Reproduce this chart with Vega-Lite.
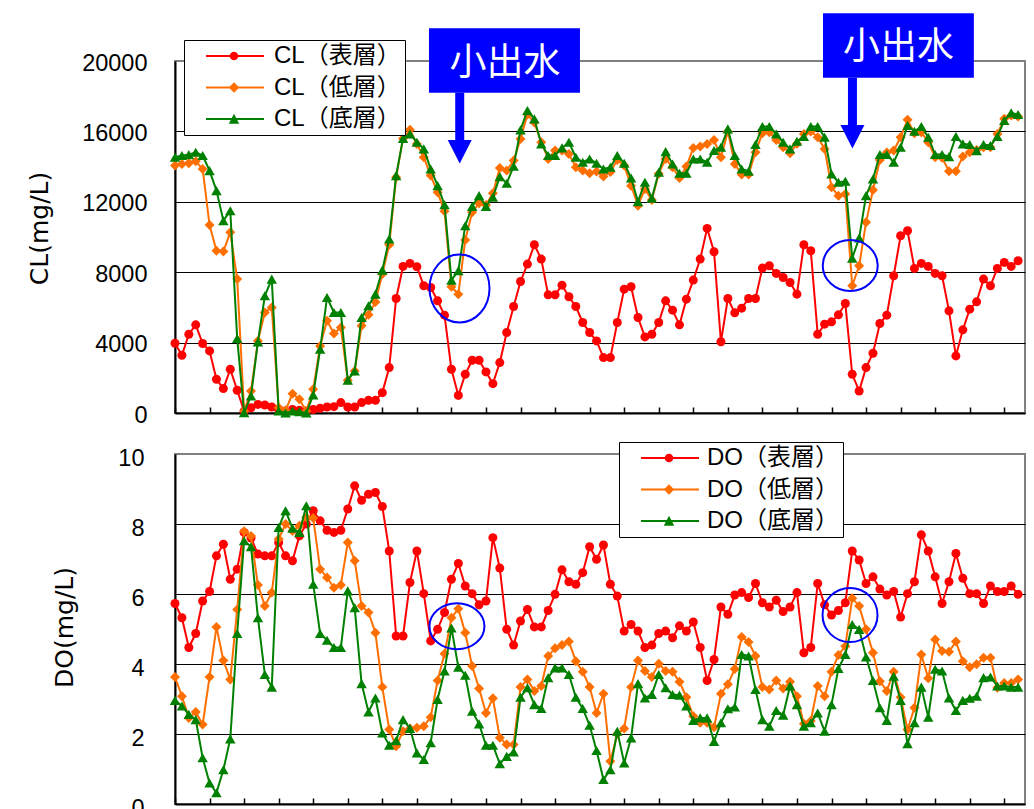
{
  "$schema": "https://vega.github.io/schema/vega-lite/v6.json",
  "background": "white",
  "padding": {"left": 26, "top": 12, "right": 9, "bottom": 0},
  "spacing": 41,
  "bounds": "flush",
  "resolve": {
    "scale": {"x": "independent", "y": "independent", "color": "independent", "shape": "independent"},
    "legend": {"color": "independent", "shape": "independent"}
  },
  "config": {
    "view": {"stroke": "#808080", "strokeWidth": 2},
    "axis": {
      "labelFont": "Liberation Sans", "labelFontSize": 23.5, "labelColor": "black",
      "labelFlush": false, "labelOverlap": false, "labelBound": false,
      "domainColor": "black", "domainWidth": 2,
      "gridColor": "black", "gridWidth": 1, "gridOpacity": 1,
      "titleFont": "DejaVu Sans", "titleFontSize": 25, "titleFontWeight": "normal", "titleColor": "black"
    },
    "legend": {
      "title": null, "orient": "none", "direction": "vertical",
      "fillColor": "white", "strokeColor": "black", "padding": 4, "rowPadding": 7.5,
      "symbolSize": 100, "symbolStrokeWidth": 0,
      "labelFont": "Liberation Sans, Noto Sans CJK JP", "labelFontSize": 24, "labelColor": "black"
    }
  },
  "datasets": {
    "cl": [
      {"sample":0,"layer":"表層","CL":3965},{"sample":1,"layer":"表層","CL":3282},{"sample":2,"layer":"表層","CL":4477},{"sample":3,"layer":"表層","CL":5008},{"sample":4,"layer":"表層","CL":3946},{"sample":5,"layer":"表層","CL":3528},{"sample":6,"layer":"表層","CL":1916},{"sample":7,"layer":"表層","CL":1385},{"sample":8,"layer":"表層","CL":2485},{"sample":9,"layer":"表層","CL":1290},
      {"sample":10,"layer":"表層","CL":110},{"sample":11,"layer":"表層","CL":300},{"sample":12,"layer":"表層","CL":490},{"sample":13,"layer":"表層","CL":455},{"sample":14,"layer":"表層","CL":340},{"sample":15,"layer":"表層","CL":210},{"sample":16,"layer":"表層","CL":110},{"sample":17,"layer":"表層","CL":200},{"sample":18,"layer":"表層","CL":150},{"sample":19,"layer":"表層","CL":110},
      {"sample":20,"layer":"表層","CL":200},{"sample":21,"layer":"表層","CL":270},{"sample":22,"layer":"表層","CL":340},{"sample":23,"layer":"表層","CL":360},{"sample":24,"layer":"表層","CL":590},{"sample":25,"layer":"表層","CL":340},{"sample":26,"layer":"表層","CL":340},{"sample":27,"layer":"表層","CL":590},{"sample":28,"layer":"表層","CL":720},{"sample":29,"layer":"表層","CL":720},
      {"sample":30,"layer":"表層","CL":1157},{"sample":31,"layer":"表層","CL":2580},{"sample":32,"layer":"表層","CL":6507},{"sample":33,"layer":"表層","CL":8328},{"sample":34,"layer":"表層","CL":8499},{"sample":35,"layer":"表層","CL":8309},{"sample":36,"layer":"表層","CL":7228},{"sample":37,"layer":"表層","CL":7133},{"sample":38,"layer":"表層","CL":6374},{"sample":39,"layer":"表層","CL":5558},
      {"sample":40,"layer":"表層","CL":2485},{"sample":41,"layer":"表層","CL":1000},{"sample":42,"layer":"表層","CL":2200},{"sample":43,"layer":"表層","CL":2997},{"sample":44,"layer":"表層","CL":2997},{"sample":45,"layer":"表層","CL":2333},{"sample":46,"layer":"表層","CL":1669},{"sample":47,"layer":"表層","CL":2864},{"sample":48,"layer":"表層","CL":4572},{"sample":49,"layer":"表層","CL":6051},
      {"sample":50,"layer":"表層","CL":7474},{"sample":51,"layer":"表層","CL":8461},{"sample":52,"layer":"表層","CL":9561},{"sample":53,"layer":"表層","CL":8745},{"sample":54,"layer":"表層","CL":6715},{"sample":55,"layer":"表層","CL":6715},{"sample":56,"layer":"表層","CL":7265},{"sample":57,"layer":"表層","CL":6602},{"sample":58,"layer":"表層","CL":6051},{"sample":59,"layer":"表層","CL":5141},
      {"sample":60,"layer":"表層","CL":4572},{"sample":61,"layer":"表層","CL":4097},{"sample":62,"layer":"表層","CL":3149},{"sample":63,"layer":"表層","CL":3149},{"sample":64,"layer":"表層","CL":5141},{"sample":65,"layer":"表層","CL":7038},{"sample":66,"layer":"表層","CL":7171},{"sample":67,"layer":"表層","CL":5425},{"sample":68,"layer":"表層","CL":4325},{"sample":69,"layer":"表層","CL":4477},
      {"sample":70,"layer":"表層","CL":5141},{"sample":71,"layer":"表層","CL":6374},{"sample":72,"layer":"表層","CL":5843},{"sample":73,"layer":"表層","CL":5008},{"sample":74,"layer":"表層","CL":6469},{"sample":75,"layer":"表層","CL":7550},{"sample":76,"layer":"表層","CL":8745},{"sample":77,"layer":"表層","CL":10490},{"sample":78,"layer":"表層","CL":9162},{"sample":79,"layer":"表層","CL":4050},
      {"sample":80,"layer":"表層","CL":6507},{"sample":81,"layer":"表層","CL":5690},{"sample":82,"layer":"表層","CL":5957},{"sample":83,"layer":"表層","CL":6507},{"sample":84,"layer":"表層","CL":6507},{"sample":85,"layer":"表層","CL":8233},{"sample":86,"layer":"表層","CL":8366},{"sample":87,"layer":"表層","CL":7930},{"sample":88,"layer":"表層","CL":7702},{"sample":89,"layer":"表層","CL":7417},
      {"sample":90,"layer":"表層","CL":6753},{"sample":91,"layer":"表層","CL":9561},{"sample":92,"layer":"表層","CL":9219},{"sample":93,"layer":"表層","CL":4477},{"sample":94,"layer":"表層","CL":5046},{"sample":95,"layer":"表層","CL":5179},{"sample":96,"layer":"表層","CL":5577},{"sample":97,"layer":"表層","CL":6222},{"sample":98,"layer":"表層","CL":2200},{"sample":99,"layer":"表層","CL":1252},
      {"sample":100,"layer":"表層","CL":2580},{"sample":101,"layer":"表層","CL":3396},{"sample":102,"layer":"表層","CL":5084},{"sample":103,"layer":"表層","CL":5558},{"sample":104,"layer":"表層","CL":7797},{"sample":105,"layer":"表層","CL":10073},{"sample":106,"layer":"表層","CL":10358},{"sample":107,"layer":"表層","CL":8214},{"sample":108,"layer":"表層","CL":8499},{"sample":109,"layer":"表層","CL":8328},
      {"sample":110,"layer":"表層","CL":7930},{"sample":111,"layer":"表層","CL":7797},{"sample":112,"layer":"表層","CL":5805},{"sample":113,"layer":"表層","CL":3244},{"sample":114,"layer":"表層","CL":4724},{"sample":115,"layer":"表層","CL":5900},{"sample":116,"layer":"表層","CL":6317},{"sample":117,"layer":"表層","CL":7607},{"sample":118,"layer":"表層","CL":7228},{"sample":119,"layer":"表層","CL":8214},
      {"sample":120,"layer":"表層","CL":8556},{"sample":121,"layer":"表層","CL":8328},{"sample":122,"layer":"表層","CL":8650},

      {"sample":0,"layer":"低層","CL":14057},{"sample":1,"layer":"低層","CL":14152},{"sample":2,"layer":"低層","CL":14190},{"sample":3,"layer":"低層","CL":14300},{"sample":4,"layer":"低層","CL":13867},{"sample":5,"layer":"低層","CL":10680},{"sample":6,"layer":"低層","CL":9219},{"sample":7,"layer":"低層","CL":9181},{"sample":8,"layer":"低層","CL":10263},{"sample":9,"layer":"低層","CL":7607},
      {"sample":10,"layer":"低層","CL":114},{"sample":11,"layer":"低層","CL":1252},{"sample":12,"layer":"低層","CL":4098},{"sample":13,"layer":"低層","CL":5710},{"sample":14,"layer":"低層","CL":5995},{"sample":15,"layer":"低層","CL":304},{"sample":16,"layer":"低層","CL":150},{"sample":17,"layer":"低層","CL":1100},{"sample":18,"layer":"低層","CL":778},{"sample":19,"layer":"低層","CL":114},
      {"sample":20,"layer":"低層","CL":1347},{"sample":21,"layer":"低層","CL":3813},{"sample":22,"layer":"低層","CL":5236},{"sample":23,"layer":"低層","CL":4515},{"sample":24,"layer":"低層","CL":4856},{"sample":25,"layer":"低層","CL":1859},{"sample":26,"layer":"低層","CL":2390},{"sample":27,"layer":"低層","CL":4951},{"sample":28,"layer":"低層","CL":5577},{"sample":29,"layer":"低層","CL":6300},
      {"sample":30,"layer":"低層","CL":7892},{"sample":31,"layer":"低層","CL":9561},{"sample":32,"layer":"低層","CL":13393},{"sample":33,"layer":"低層","CL":15600},{"sample":34,"layer":"低層","CL":16087},{"sample":35,"layer":"低層","CL":15290},{"sample":36,"layer":"低層","CL":14531},{"sample":37,"layer":"低層","CL":13488},{"sample":38,"layer":"低層","CL":12539},{"sample":39,"layer":"低層","CL":11458},
      {"sample":40,"layer":"低層","CL":7171},{"sample":41,"layer":"低層","CL":6753},{"sample":42,"layer":"低層","CL":9826},{"sample":43,"layer":"低層","CL":11401},{"sample":44,"layer":"低層","CL":11913},{"sample":45,"layer":"低層","CL":11818},{"sample":46,"layer":"低層","CL":12482},{"sample":47,"layer":"低層","CL":13924},{"sample":48,"layer":"低層","CL":13772},{"sample":49,"layer":"低層","CL":14341},
      {"sample":50,"layer":"低層","CL":15575},{"sample":51,"layer":"低層","CL":16959},{"sample":52,"layer":"低層","CL":16500},{"sample":53,"layer":"低層","CL":15385},{"sample":54,"layer":"低層","CL":14436},{"sample":55,"layer":"低層","CL":14911},{"sample":56,"layer":"低層","CL":14911},{"sample":57,"layer":"低層","CL":14721},{"sample":58,"layer":"低層","CL":13962},{"sample":59,"layer":"低層","CL":13772},
      {"sample":60,"layer":"低層","CL":13620},{"sample":61,"layer":"低層","CL":13715},{"sample":62,"layer":"低層","CL":13431},{"sample":63,"layer":"低層","CL":13700},{"sample":64,"layer":"低層","CL":14379},{"sample":65,"layer":"低層","CL":14057},{"sample":66,"layer":"低層","CL":12918},{"sample":67,"layer":"低層","CL":11780},{"sample":68,"layer":"低層","CL":12729},{"sample":69,"layer":"低層","CL":12100},
      {"sample":70,"layer":"低層","CL":13600},{"sample":71,"layer":"低層","CL":14436},{"sample":72,"layer":"低層","CL":13962},{"sample":73,"layer":"低層","CL":13355},{"sample":74,"layer":"低層","CL":14000},{"sample":75,"layer":"低層","CL":15062},{"sample":76,"layer":"低層","CL":15138},{"sample":77,"layer":"低層","CL":15290},{"sample":78,"layer":"低層","CL":15518},{"sample":79,"layer":"低層","CL":14531},
      {"sample":80,"layer":"低層","CL":16000},{"sample":81,"layer":"低層","CL":14152},{"sample":82,"layer":"低層","CL":13545},{"sample":83,"layer":"低層","CL":13545},{"sample":84,"layer":"低層","CL":14815},{"sample":85,"layer":"低層","CL":15897},{"sample":86,"layer":"低層","CL":15954},{"sample":87,"layer":"低層","CL":15518},{"sample":88,"layer":"低層","CL":15100},{"sample":89,"layer":"低層","CL":14759},
      {"sample":90,"layer":"低層","CL":15300},{"sample":91,"layer":"低層","CL":15859},{"sample":92,"layer":"低層","CL":16000},{"sample":93,"layer":"低層","CL":15669},{"sample":94,"layer":"低層","CL":15006},{"sample":95,"layer":"低層","CL":12824},{"sample":96,"layer":"低層","CL":12349},{"sample":97,"layer":"低層","CL":12444},{"sample":98,"layer":"低層","CL":7228},{"sample":99,"layer":"低層","CL":8366},
      {"sample":100,"layer":"低層","CL":10832},{"sample":101,"layer":"低層","CL":12672},{"sample":102,"layer":"低層","CL":14379},{"sample":103,"layer":"低層","CL":14800},{"sample":104,"layer":"低層","CL":14910},{"sample":105,"layer":"低層","CL":15669},{"sample":106,"layer":"低層","CL":16655},{"sample":107,"layer":"低層","CL":15900},{"sample":108,"layer":"低層","CL":15950},{"sample":109,"layer":"低層","CL":15385},
      {"sample":110,"layer":"低層","CL":14531},{"sample":111,"layer":"低層","CL":14500},{"sample":112,"layer":"低層","CL":13734},{"sample":113,"layer":"低層","CL":13734},{"sample":114,"layer":"低層","CL":14569},{"sample":115,"layer":"低層","CL":14816},{"sample":116,"layer":"低層","CL":14948},{"sample":117,"layer":"低層","CL":15100},{"sample":118,"layer":"低層","CL":15100},{"sample":119,"layer":"低層","CL":15859},
      {"sample":120,"layer":"低層","CL":16713},{"sample":121,"layer":"低層","CL":16902},{"sample":122,"layer":"低層","CL":16845},

      {"sample":0,"layer":"底層","CL":14531},{"sample":1,"layer":"底層","CL":14626},{"sample":2,"layer":"底層","CL":14680},{"sample":3,"layer":"底層","CL":14816},{"sample":4,"layer":"底層","CL":14626},{"sample":5,"layer":"底層","CL":13772},{"sample":6,"layer":"底層","CL":12634},{"sample":7,"layer":"底層","CL":10927},{"sample":8,"layer":"底層","CL":11496},{"sample":9,"layer":"底層","CL":4230},
      {"sample":10,"layer":"底層","CL":20},{"sample":11,"layer":"底層","CL":967},{"sample":12,"layer":"底層","CL":4041},{"sample":13,"layer":"底層","CL":6659},{"sample":14,"layer":"底層","CL":7607},{"sample":15,"layer":"底層","CL":114},{"sample":16,"layer":"底層","CL":0},{"sample":17,"layer":"底層","CL":114},{"sample":18,"layer":"底層","CL":76},{"sample":19,"layer":"底層","CL":0},
      {"sample":20,"layer":"底層","CL":1024},{"sample":21,"layer":"底層","CL":3623},{"sample":22,"layer":"底層","CL":6564},{"sample":23,"layer":"底層","CL":5710},{"sample":24,"layer":"底層","CL":5710},{"sample":25,"layer":"底層","CL":1859},{"sample":26,"layer":"底層","CL":2390},{"sample":27,"layer":"底層","CL":5425},{"sample":28,"layer":"底層","CL":6090},{"sample":29,"layer":"底層","CL":6753},
      {"sample":30,"layer":"底層","CL":8119},{"sample":31,"layer":"底層","CL":9883},{"sample":32,"layer":"底層","CL":13488},{"sample":33,"layer":"底層","CL":15600},{"sample":34,"layer":"底層","CL":15860},{"sample":35,"layer":"底層","CL":15385},{"sample":36,"layer":"底層","CL":15006},{"sample":37,"layer":"底層","CL":13867},{"sample":38,"layer":"底層","CL":12918},{"sample":39,"layer":"底層","CL":11837},
      {"sample":40,"layer":"底層","CL":7550},{"sample":41,"layer":"底層","CL":8081},{"sample":42,"layer":"底層","CL":10642},{"sample":43,"layer":"底層","CL":11742},{"sample":44,"layer":"底層","CL":12349},{"sample":45,"layer":"底層","CL":11742},{"sample":46,"layer":"底層","CL":12254},{"sample":47,"layer":"底層","CL":13431},{"sample":48,"layer":"底層","CL":13051},{"sample":49,"layer":"底層","CL":14019},
      {"sample":50,"layer":"底層","CL":16087},{"sample":51,"layer":"底層","CL":17187},{"sample":52,"layer":"底層","CL":16713},{"sample":53,"layer":"底層","CL":15290},{"sample":54,"layer":"底層","CL":14626},{"sample":55,"layer":"底層","CL":14626},{"sample":56,"layer":"底層","CL":15062},{"sample":57,"layer":"底層","CL":15385},{"sample":58,"layer":"底層","CL":14531},{"sample":59,"layer":"底層","CL":14247},
      {"sample":60,"layer":"底層","CL":14436},{"sample":61,"layer":"底層","CL":14190},{"sample":62,"layer":"底層","CL":13867},{"sample":63,"layer":"底層","CL":13962},{"sample":64,"layer":"底層","CL":14626},{"sample":65,"layer":"底層","CL":14190},{"sample":66,"layer":"底層","CL":13355},{"sample":67,"layer":"底層","CL":12008},{"sample":68,"layer":"底層","CL":13108},{"sample":69,"layer":"底層","CL":12197},
      {"sample":70,"layer":"底層","CL":13677},{"sample":71,"layer":"底層","CL":14853},{"sample":72,"layer":"底層","CL":14152},{"sample":73,"layer":"底層","CL":13620},{"sample":74,"layer":"底層","CL":13620},{"sample":75,"layer":"底層","CL":14436},{"sample":76,"layer":"底層","CL":14436},{"sample":77,"layer":"底層","CL":14247},{"sample":78,"layer":"底層","CL":14911},{"sample":79,"layer":"底層","CL":15100},
      {"sample":80,"layer":"底層","CL":16144},{"sample":81,"layer":"底層","CL":14626},{"sample":82,"layer":"底層","CL":13867},{"sample":83,"layer":"底層","CL":13734},{"sample":84,"layer":"底層","CL":15252},{"sample":85,"layer":"底層","CL":16276},{"sample":86,"layer":"底層","CL":16276},{"sample":87,"layer":"底層","CL":15859},{"sample":88,"layer":"底層","CL":15385},{"sample":89,"layer":"底層","CL":15006},
      {"sample":90,"layer":"底層","CL":15442},{"sample":91,"layer":"底層","CL":15707},{"sample":92,"layer":"底層","CL":16276},{"sample":93,"layer":"底層","CL":16276},{"sample":94,"layer":"底層","CL":15669},{"sample":95,"layer":"底層","CL":13583},{"sample":96,"layer":"底層","CL":13108},{"sample":97,"layer":"底層","CL":13165},{"sample":98,"layer":"底層","CL":8802},{"sample":99,"layer":"底層","CL":9940},
      {"sample":100,"layer":"底層","CL":12349},{"sample":101,"layer":"底層","CL":13298},{"sample":102,"layer":"底層","CL":14683},{"sample":103,"layer":"底層","CL":14683},{"sample":104,"layer":"底層","CL":14247},{"sample":105,"layer":"底層","CL":15100},{"sample":106,"layer":"底層","CL":16333},{"sample":107,"layer":"底層","CL":16011},{"sample":108,"layer":"底層","CL":16276},{"sample":109,"layer":"底層","CL":15669},
      {"sample":110,"layer":"底層","CL":14683},{"sample":111,"layer":"底層","CL":14683},{"sample":112,"layer":"底層","CL":14569},{"sample":113,"layer":"底層","CL":15707},{"sample":114,"layer":"底層","CL":15290},{"sample":115,"layer":"底層","CL":15252},{"sample":116,"layer":"底層","CL":14910},{"sample":117,"layer":"底層","CL":15252},{"sample":118,"layer":"底層","CL":15195},{"sample":119,"layer":"底層","CL":15707},
      {"sample":120,"layer":"底層","CL":16618},{"sample":121,"layer":"底層","CL":17054},{"sample":122,"layer":"底層","CL":16959}
    ],
    "do": [
      {"sample":0,"layer":"表層","DO":5.73},{"sample":1,"layer":"表層","DO":5.32},{"sample":2,"layer":"表層","DO":4.47},{"sample":3,"layer":"表層","DO":4.87},{"sample":4,"layer":"表層","DO":5.80},{"sample":5,"layer":"表層","DO":6.07},{"sample":6,"layer":"表層","DO":7.09},{"sample":7,"layer":"表層","DO":7.42},{"sample":8,"layer":"表層","DO":6.42},{"sample":9,"layer":"表層","DO":6.71},
      {"sample":10,"layer":"表層","DO":7.76},{"sample":11,"layer":"表層","DO":7.60},{"sample":12,"layer":"表層","DO":7.14},{"sample":13,"layer":"表層","DO":7.09},{"sample":14,"layer":"表層","DO":7.09},{"sample":15,"layer":"表層","DO":7.47},{"sample":16,"layer":"表層","DO":7.09},{"sample":17,"layer":"表層","DO":6.95},{"sample":18,"layer":"表層","DO":7.66},{"sample":19,"layer":"表層","DO":8.00},
      {"sample":20,"layer":"表層","DO":8.38},{"sample":21,"layer":"表層","DO":8.09},{"sample":22,"layer":"表層","DO":7.82},{"sample":23,"layer":"表層","DO":7.76},{"sample":24,"layer":"表層","DO":7.82},{"sample":25,"layer":"表層","DO":8.43},{"sample":26,"layer":"表層","DO":9.09},{"sample":27,"layer":"表層","DO":8.68},{"sample":28,"layer":"表層","DO":8.85},{"sample":29,"layer":"表層","DO":8.90},
      {"sample":30,"layer":"表層","DO":8.50},{"sample":31,"layer":"表層","DO":7.23},{"sample":32,"layer":"表層","DO":4.80},{"sample":33,"layer":"表層","DO":4.80},{"sample":34,"layer":"表層","DO":6.33},{"sample":35,"layer":"表層","DO":7.23},{"sample":36,"layer":"表層","DO":6.01},{"sample":37,"layer":"表層","DO":4.66},{"sample":38,"layer":"表層","DO":4.99},{"sample":39,"layer":"表層","DO":5.47},
      {"sample":40,"layer":"表層","DO":6.42},{"sample":41,"layer":"表層","DO":6.87},{"sample":42,"layer":"表層","DO":6.23},{"sample":43,"layer":"表層","DO":6.01},{"sample":44,"layer":"表層","DO":5.69},{"sample":45,"layer":"表層","DO":5.80},{"sample":46,"layer":"表層","DO":7.61},{"sample":47,"layer":"表層","DO":6.74},{"sample":48,"layer":"表層","DO":4.99},{"sample":49,"layer":"表層","DO":4.54},
      {"sample":50,"layer":"表層","DO":5.23},{"sample":51,"layer":"表層","DO":5.56},{"sample":52,"layer":"表層","DO":5.06},{"sample":53,"layer":"表層","DO":5.06},{"sample":54,"layer":"表層","DO":5.53},{"sample":55,"layer":"表層","DO":5.99},{"sample":56,"layer":"表層","DO":6.69},{"sample":57,"layer":"表層","DO":6.35},{"sample":58,"layer":"表層","DO":6.28},{"sample":59,"layer":"表層","DO":6.61},
      {"sample":60,"layer":"表層","DO":7.35},{"sample":61,"layer":"表層","DO":6.99},{"sample":62,"layer":"表層","DO":7.40},{"sample":63,"layer":"表層","DO":6.28},{"sample":64,"layer":"表層","DO":5.94},{"sample":65,"layer":"表層","DO":4.94},{"sample":66,"layer":"表層","DO":5.13},{"sample":67,"layer":"表層","DO":4.94},{"sample":68,"layer":"表層","DO":4.47},{"sample":69,"layer":"表層","DO":4.54},
      {"sample":70,"layer":"表層","DO":4.87},{"sample":71,"layer":"表層","DO":4.94},{"sample":72,"layer":"表層","DO":4.75},{"sample":73,"layer":"表層","DO":5.09},{"sample":74,"layer":"表層","DO":4.94},{"sample":75,"layer":"表層","DO":5.20},{"sample":76,"layer":"表層","DO":4.47},{"sample":77,"layer":"表層","DO":3.53},{"sample":78,"layer":"表層","DO":4.13},{"sample":79,"layer":"表層","DO":5.63},
      {"sample":80,"layer":"表層","DO":5.42},{"sample":81,"layer":"表層","DO":5.97},{"sample":82,"layer":"表層","DO":6.04},{"sample":83,"layer":"表層","DO":5.90},{"sample":84,"layer":"表層","DO":6.30},{"sample":85,"layer":"表層","DO":5.75},{"sample":86,"layer":"表層","DO":5.63},{"sample":87,"layer":"表層","DO":5.82},{"sample":88,"layer":"表層","DO":5.50},{"sample":89,"layer":"表層","DO":5.63},
      {"sample":90,"layer":"表層","DO":6.04},{"sample":91,"layer":"表層","DO":4.32},{"sample":92,"layer":"表層","DO":4.47},{"sample":93,"layer":"表層","DO":6.30},{"sample":94,"layer":"表層","DO":5.69},{"sample":95,"layer":"表層","DO":5.40},{"sample":96,"layer":"表層","DO":5.53},{"sample":97,"layer":"表層","DO":5.75},{"sample":98,"layer":"表層","DO":7.23},{"sample":99,"layer":"表層","DO":6.97},
      {"sample":100,"layer":"表層","DO":6.30},{"sample":101,"layer":"表層","DO":6.49},{"sample":102,"layer":"表層","DO":6.14},{"sample":103,"layer":"表層","DO":5.97},{"sample":104,"layer":"表層","DO":6.07},{"sample":105,"layer":"表層","DO":5.34},{"sample":106,"layer":"表層","DO":6.01},{"sample":107,"layer":"表層","DO":6.35},{"sample":108,"layer":"表層","DO":7.69},{"sample":109,"layer":"表層","DO":7.23},
      {"sample":110,"layer":"表層","DO":6.49},{"sample":111,"layer":"表層","DO":5.73},{"sample":112,"layer":"表層","DO":6.35},{"sample":113,"layer":"表層","DO":7.16},{"sample":114,"layer":"表層","DO":6.45},{"sample":115,"layer":"表層","DO":6.01},{"sample":116,"layer":"表層","DO":6.01},{"sample":117,"layer":"表層","DO":5.73},{"sample":118,"layer":"表層","DO":6.23},{"sample":119,"layer":"表層","DO":6.07},
      {"sample":120,"layer":"表層","DO":6.07},{"sample":121,"layer":"表層","DO":6.23},{"sample":122,"layer":"表層","DO":5.99},

      {"sample":0,"layer":"低層","DO":3.63},{"sample":1,"layer":"低層","DO":3.08},{"sample":2,"layer":"低層","DO":2.46},{"sample":3,"layer":"低層","DO":2.63},{"sample":4,"layer":"低層","DO":2.27},{"sample":5,"layer":"低層","DO":3.63},{"sample":6,"layer":"低層","DO":5.06},{"sample":7,"layer":"低層","DO":4.10},{"sample":8,"layer":"低層","DO":3.56},{"sample":9,"layer":"低層","DO":5.56},
      {"sample":10,"layer":"低層","DO":7.79},{"sample":11,"layer":"低層","DO":7.66},{"sample":12,"layer":"低層","DO":6.26},{"sample":13,"layer":"低層","DO":5.66},{"sample":14,"layer":"低層","DO":6.04},{"sample":15,"layer":"低層","DO":7.57},{"sample":16,"layer":"低層","DO":8.00},{"sample":17,"layer":"低層","DO":7.80},{"sample":18,"layer":"低層","DO":7.95},{"sample":19,"layer":"低層","DO":8.19},
      {"sample":20,"layer":"低層","DO":8.17},{"sample":21,"layer":"低層","DO":6.71},{"sample":22,"layer":"低層","DO":6.47},{"sample":23,"layer":"低層","DO":6.18},{"sample":24,"layer":"低層","DO":6.26},{"sample":25,"layer":"低層","DO":7.47},{"sample":26,"layer":"低層","DO":6.95},{"sample":27,"layer":"低層","DO":5.66},{"sample":28,"layer":"低層","DO":5.47},{"sample":29,"layer":"低層","DO":4.89},
      {"sample":30,"layer":"低層","DO":3.34},{"sample":31,"layer":"低層","DO":2.13},{"sample":32,"layer":"低層","DO":1.65},{"sample":33,"layer":"低層","DO":2.08},{"sample":34,"layer":"低層","DO":2.16},{"sample":35,"layer":"低層","DO":2.18},{"sample":36,"layer":"低層","DO":2.22},{"sample":37,"layer":"低層","DO":2.48},{"sample":38,"layer":"低層","DO":3.53},{"sample":39,"layer":"低層","DO":4.29},
      {"sample":40,"layer":"低層","DO":5.32},{"sample":41,"layer":"低層","DO":5.58},{"sample":42,"layer":"低層","DO":4.89},{"sample":43,"layer":"低層","DO":3.94},{"sample":44,"layer":"低層","DO":3.30},{"sample":45,"layer":"低層","DO":2.60},{"sample":46,"layer":"低層","DO":3.02},{"sample":47,"layer":"低層","DO":1.89},{"sample":48,"layer":"低層","DO":1.70},{"sample":49,"layer":"低層","DO":1.70},
      {"sample":50,"layer":"低層","DO":3.34},{"sample":51,"layer":"低層","DO":3.56},{"sample":52,"layer":"低層","DO":3.23},{"sample":53,"layer":"低層","DO":3.37},{"sample":54,"layer":"低層","DO":4.23},{"sample":55,"layer":"低層","DO":4.45},{"sample":56,"layer":"低層","DO":4.54},{"sample":57,"layer":"低層","DO":4.64},{"sample":58,"layer":"低層","DO":4.08},{"sample":59,"layer":"低層","DO":3.78},
      {"sample":60,"layer":"低層","DO":3.34},{"sample":61,"layer":"低層","DO":2.60},{"sample":62,"layer":"低層","DO":3.15},{"sample":63,"layer":"低層","DO":1.22},{"sample":64,"layer":"低層","DO":2.00},{"sample":65,"layer":"低層","DO":2.16},{"sample":66,"layer":"低層","DO":3.34},{"sample":67,"layer":"低層","DO":4.10},{"sample":68,"layer":"低層","DO":3.80},{"sample":69,"layer":"低層","DO":3.63},
      {"sample":70,"layer":"低層","DO":4.01},{"sample":71,"layer":"低層","DO":3.80},{"sample":72,"layer":"低層","DO":3.78},{"sample":73,"layer":"低層","DO":3.49},{"sample":74,"layer":"低層","DO":3.05},{"sample":75,"layer":"低層","DO":2.51},{"sample":76,"layer":"低層","DO":2.32},{"sample":77,"layer":"低層","DO":2.32},{"sample":78,"layer":"低層","DO":2.19},{"sample":79,"layer":"低層","DO":3.15},
      {"sample":80,"layer":"低層","DO":3.42},{"sample":81,"layer":"低層","DO":3.86},{"sample":82,"layer":"低層","DO":4.77},{"sample":83,"layer":"低層","DO":4.63},{"sample":84,"layer":"低層","DO":4.23},{"sample":85,"layer":"低層","DO":3.34},{"sample":86,"layer":"低層","DO":3.27},{"sample":87,"layer":"低層","DO":3.53},{"sample":88,"layer":"低層","DO":3.30},{"sample":89,"layer":"低層","DO":3.49},
      {"sample":90,"layer":"低層","DO":3.08},{"sample":91,"layer":"低層","DO":2.29},{"sample":92,"layer":"低層","DO":2.37},{"sample":93,"layer":"低層","DO":3.37},{"sample":94,"layer":"低層","DO":3.08},{"sample":95,"layer":"低層","DO":3.78},{"sample":96,"layer":"低層","DO":4.26},{"sample":97,"layer":"低層","DO":4.51},{"sample":98,"layer":"低層","DO":5.88},{"sample":99,"layer":"低層","DO":5.66},
      {"sample":100,"layer":"低層","DO":4.99},{"sample":101,"layer":"低層","DO":4.32},{"sample":102,"layer":"低層","DO":3.51},{"sample":103,"layer":"低層","DO":3.23},{"sample":104,"layer":"低層","DO":3.78},{"sample":105,"layer":"低層","DO":3.05},{"sample":106,"layer":"低層","DO":2.13},{"sample":107,"layer":"低層","DO":2.75},{"sample":108,"layer":"低層","DO":4.27},{"sample":109,"layer":"低層","DO":3.59},
      {"sample":110,"layer":"低層","DO":4.70},{"sample":111,"layer":"低層","DO":4.37},{"sample":112,"layer":"低層","DO":4.35},{"sample":113,"layer":"低層","DO":4.64},{"sample":114,"layer":"低層","DO":4.08},{"sample":115,"layer":"低層","DO":3.91},{"sample":116,"layer":"低層","DO":3.99},{"sample":117,"layer":"低層","DO":4.18},{"sample":118,"layer":"低層","DO":4.18},{"sample":119,"layer":"低層","DO":3.32},
      {"sample":120,"layer":"低層","DO":3.46},{"sample":121,"layer":"低層","DO":3.46},{"sample":122,"layer":"低層","DO":3.56},

      {"sample":0,"layer":"底層","DO":2.96},{"sample":1,"layer":"底層","DO":2.80},{"sample":2,"layer":"底層","DO":2.56},{"sample":3,"layer":"底層","DO":2.41},{"sample":4,"layer":"底層","DO":1.32},{"sample":5,"layer":"底層","DO":0.60},{"sample":6,"layer":"底層","DO":0.32},{"sample":7,"layer":"底層","DO":0.98},{"sample":8,"layer":"底層","DO":1.86},{"sample":9,"layer":"底層","DO":4.87},
      {"sample":10,"layer":"底層","DO":7.52},{"sample":11,"layer":"底層","DO":7.35},{"sample":12,"layer":"底層","DO":5.32},{"sample":13,"layer":"底層","DO":3.70},{"sample":14,"layer":"底層","DO":3.34},{"sample":15,"layer":"底層","DO":7.90},{"sample":16,"layer":"底層","DO":8.38},{"sample":17,"layer":"底層","DO":7.88},{"sample":18,"layer":"底層","DO":7.76},{"sample":19,"layer":"底層","DO":8.52},
      {"sample":20,"layer":"底層","DO":6.28},{"sample":21,"layer":"底層","DO":4.87},{"sample":22,"layer":"底層","DO":4.68},{"sample":23,"layer":"底層","DO":4.47},{"sample":24,"layer":"底層","DO":4.47},{"sample":25,"layer":"底層","DO":6.09},{"sample":26,"layer":"底層","DO":5.61},{"sample":27,"layer":"底層","DO":3.44},{"sample":28,"layer":"底層","DO":2.63},{"sample":29,"layer":"底層","DO":3.03},
      {"sample":30,"layer":"底層","DO":2.03},{"sample":31,"layer":"底層","DO":1.68},{"sample":32,"layer":"底層","DO":1.81},{"sample":33,"layer":"底層","DO":2.41},{"sample":34,"layer":"底層","DO":2.16},{"sample":35,"layer":"底層","DO":1.46},{"sample":36,"layer":"底層","DO":1.27},{"sample":37,"layer":"底層","DO":1.75},{"sample":38,"layer":"底層","DO":2.99},{"sample":39,"layer":"底層","DO":3.80},
      {"sample":40,"layer":"底層","DO":5.03},{"sample":41,"layer":"底層","DO":3.91},{"sample":42,"layer":"底層","DO":3.68},{"sample":43,"layer":"底層","DO":2.65},{"sample":44,"layer":"底層","DO":2.29},{"sample":45,"layer":"底層","DO":1.68},{"sample":46,"layer":"底層","DO":1.68},{"sample":47,"layer":"底層","DO":1.15},{"sample":48,"layer":"底層","DO":1.36},{"sample":49,"layer":"底層","DO":1.49},
      {"sample":50,"layer":"底層","DO":3.05},{"sample":51,"layer":"底層","DO":3.32},{"sample":52,"layer":"底層","DO":2.84},{"sample":53,"layer":"底層","DO":2.73},{"sample":54,"layer":"底層","DO":3.61},{"sample":55,"layer":"底層","DO":3.89},{"sample":56,"layer":"底層","DO":3.89},{"sample":57,"layer":"底層","DO":3.70},{"sample":58,"layer":"底層","DO":3.05},{"sample":59,"layer":"底層","DO":2.73},
      {"sample":60,"layer":"底層","DO":2.25},{"sample":61,"layer":"底層","DO":1.53},{"sample":62,"layer":"底層","DO":0.70},{"sample":63,"layer":"底層","DO":0.98},{"sample":64,"layer":"底層","DO":2.08},{"sample":65,"layer":"底層","DO":1.17},{"sample":66,"layer":"底層","DO":1.89},{"sample":67,"layer":"底層","DO":3.44},{"sample":68,"layer":"底層","DO":3.03},{"sample":69,"layer":"底層","DO":3.13},
      {"sample":70,"layer":"底層","DO":3.70},{"sample":71,"layer":"底層","DO":3.32},{"sample":72,"layer":"底層","DO":3.13},{"sample":73,"layer":"底層","DO":3.11},{"sample":74,"layer":"底層","DO":2.80},{"sample":75,"layer":"底層","DO":2.39},{"sample":76,"layer":"底層","DO":2.46},{"sample":77,"layer":"底層","DO":2.46},{"sample":78,"layer":"底層","DO":1.79},{"sample":79,"layer":"底層","DO":2.32},
      {"sample":80,"layer":"底層","DO":2.72},{"sample":81,"layer":"底層","DO":2.77},{"sample":82,"layer":"底層","DO":4.27},{"sample":83,"layer":"底層","DO":4.23},{"sample":84,"layer":"底層","DO":3.27},{"sample":85,"layer":"底層","DO":2.41},{"sample":86,"layer":"底層","DO":2.22},{"sample":87,"layer":"底層","DO":2.67},{"sample":88,"layer":"底層","DO":2.54},{"sample":89,"layer":"底層","DO":3.37},
      {"sample":90,"layer":"底層","DO":2.84},{"sample":91,"layer":"底層","DO":2.22},{"sample":92,"layer":"底層","DO":2.32},{"sample":93,"layer":"底層","DO":2.60},{"sample":94,"layer":"底層","DO":2.08},{"sample":95,"layer":"底層","DO":2.84},{"sample":96,"layer":"底層","DO":3.87},{"sample":97,"layer":"底層","DO":4.27},{"sample":98,"layer":"底層","DO":5.13},{"sample":99,"layer":"底層","DO":4.99},
      {"sample":100,"layer":"底層","DO":4.20},{"sample":101,"layer":"底層","DO":3.53},{"sample":102,"layer":"底層","DO":2.75},{"sample":103,"layer":"底層","DO":2.39},{"sample":104,"layer":"底層","DO":3.65},{"sample":105,"layer":"底層","DO":2.96},{"sample":106,"layer":"底層","DO":1.72},{"sample":107,"layer":"底層","DO":2.32},{"sample":108,"layer":"底層","DO":3.34},{"sample":109,"layer":"底層","DO":2.48},
      {"sample":110,"layer":"底層","DO":3.85},{"sample":111,"layer":"底層","DO":3.80},{"sample":112,"layer":"底層","DO":3.03},{"sample":113,"layer":"底層","DO":2.67},{"sample":114,"layer":"底層","DO":2.96},{"sample":115,"layer":"底層","DO":3.02},{"sample":116,"layer":"底層","DO":3.08},{"sample":117,"layer":"底層","DO":3.61},{"sample":118,"layer":"底層","DO":3.63},{"sample":119,"layer":"底層","DO":3.37},
      {"sample":120,"layer":"底層","DO":3.37},{"sample":121,"layer":"底層","DO":3.34},{"sample":122,"layer":"底層","DO":3.34}
    ],
    "cl_flood": [
      {"id":1,"event":"小出水","start":36.75,"end":58.6,"boxTop":21859,"boxBottom":18199,"mid":47.75,"labelCL":19830,"at":41.2,"shaftEnd":15398,"headCL":14864,"ringSample":41.17,"ringCL":7074},
      {"id":2,"event":"小出水","start":93.77,"end":115.6,"boxTop":22711,"boxBottom":19052,"mid":104.7,"labelCL":20711,"at":98.03,"shaftEnd":16251,"headCL":15716,"ringSample":97.71,"ringCL":8381}
    ],
    "do_flood": [
      {"id":1,"ringSample":40.8,"ringDO":5.08},
      {"id":2,"ringSample":97.68,"ringDO":5.40}
    ]
  },
  "vconcat": [
    {
      "width": 850,
      "height": 352,
      "layer": [
        {
          "data": {"name": "cl"},
          "encoding": {
            "x": {"field": "sample", "type": "quantitative", "scale": {"domain": [0, 123], "nice": false, "zero": false},
                  "axis": {"title": null, "labels": false, "grid": false, "tickCount": 25, "ticks": true, "tickSize": -6, "tickColor": "black", "tickWidth": 1.5}},
            "y": {"field": "CL", "type": "quantitative", "scale": {"domain": [0, 20000], "nice": false},
                  "axis": {"title": "CL(mg/L)", "values": [0, 4000, 8000, 12000, 16000, 20000], "format": "d", "ticks": false, "labelPadding": 28, "labelOffset": 2,
                           "gridColor": {"condition": {"test": "datum.value === 20000", "value": "#808080"}, "value": "black"},
                           "titleX": -136, "titleY": 167, "titleAngle": 270, "titleBaseline": "middle", "titleAlign": "center"}}
          },
          "layer": [
            {"transform": [{"filter": "datum.layer === '表層'"}],
             "layer": [
               {"mark": {"type": "line", "color": "#FF0000", "strokeWidth": 2}},
               {"mark": {"type": "point", "shape": "circle", "color": "#FF0000", "filled": true, "opacity": 1, "size": 81, "strokeWidth": 0}}
             ]},
            {"transform": [{"filter": "datum.layer === '低層'"}],
             "layer": [
               {"mark": {"type": "line", "color": "#FF6F00", "strokeWidth": 2}},
               {"mark": {"type": "point", "shape": "diamond", "color": "#FF6F00", "filled": true, "opacity": 1, "size": 100, "strokeWidth": 0}}
             ]},
            {"transform": [{"filter": "datum.layer === '底層'"}],
             "layer": [
               {"mark": {"type": "line", "color": "#008000", "strokeWidth": 2}},
               {"mark": {"type": "point", "shape": "triangle-up", "color": "#008000", "filled": true, "opacity": 1, "size": 110, "strokeWidth": 0}}
             ]},
            {"transform": [{"filter": "datum.sample < 0"}],
             "mark": {"type": "point", "filled": true, "opacity": 1, "strokeWidth": 0},
             "encoding": {
               "color": {"field": "layer", "type": "nominal",
                         "scale": {"domain": ["表層", "低層", "底層"], "range": ["#FF0000", "#FF6F00", "#008000"]},
                         "legend": {"legendX": 9, "legendY": -21, "labelOffset": 62, "labelExpr": "'CL（' + datum.label + '）'"}},
               "shape": {"field": "layer", "type": "nominal",
                         "scale": {"domain": ["表層", "低層", "底層"],
                                   "range": ["M1.2,-0.2L12.8,-0.2L12.8,0.2L1.2,0.2ZM7.65,0C7.65,0.469,7.269,0.85,6.8,0.85C6.331,0.85,5.95,0.469,5.95,0C5.95,-0.469,6.331,-0.85,6.8,-0.85C7.269,-0.85,7.65,-0.469,7.65,0Z",
                                             "M1.2,-0.2L12.8,-0.2L12.8,0.2L1.2,0.2ZM5.75,0L6.8,-1.05L7.85,0L6.8,1.05Z",
                                             "M1.2,-0.2L12.8,-0.2L12.8,0.2L1.2,0.2ZM6.8,-1.05L7.85,0.95L5.75,0.95Z"]},
                         "legend": {"legendX": 9, "legendY": -21, "labelOffset": 62, "labelExpr": "'CL（' + datum.label + '）'"}}
             }}
          ]
        },
        {
          "data": {"name": "cl_flood"},
          "layer": [
            {"transform": [{"filter": "datum.id === 1"}],
             "mark": {"type": "point", "filled": false, "color": "#0000FF", "strokeWidth": 2, "opacity": 1, "size": 3600,
                      "shape": "M1,0C1,0.626,0.552,1.133,0,1.133C-0.552,1.133,-1,0.626,-1,0C-1,-0.626,-0.552,-1.133,0,-1.133C0.552,-1.133,1,-0.626,1,0Z"},
             "encoding": {
               "x": {"field": "ringSample", "type": "quantitative", "scale": {"domain": [0, 123], "nice": false, "zero": false}},
               "y": {"field": "ringCL", "type": "quantitative", "scale": {"domain": [0, 20000], "nice": false}}
             }},
            {"transform": [{"filter": "datum.id === 2"}],
             "mark": {"type": "point", "filled": false, "color": "#0000FF", "strokeWidth": 2, "opacity": 1, "size": 3025,
                      "shape": "M1,0C1,0.512,0.552,0.927,0,0.927C-0.552,0.927,-1,0.512,-1,0C-1,-0.512,-0.552,-0.927,0,-0.927C0.552,-0.927,1,-0.512,1,0Z"},
             "encoding": {
               "x": {"field": "ringSample", "type": "quantitative", "scale": {"domain": [0, 123], "nice": false, "zero": false}},
               "y": {"field": "ringCL", "type": "quantitative", "scale": {"domain": [0, 20000], "nice": false}}
             }},
            {"mark": {"type": "rule", "color": "#0000FF", "strokeWidth": 9},
             "encoding": {
               "x": {"field": "at", "type": "quantitative", "scale": {"domain": [0, 123], "nice": false, "zero": false}},
               "y": {"field": "boxBottom", "type": "quantitative", "scale": {"domain": [0, 20000], "nice": false}},
               "y2": {"field": "shaftEnd"}
             }},
            {"mark": {"type": "point", "filled": true, "color": "#0000FF", "opacity": 1, "strokeWidth": 0, "size": 576,
                      "shape": "M-1,-0.95L1,-0.95L0,1Z"},
             "encoding": {
               "x": {"field": "at", "type": "quantitative", "scale": {"domain": [0, 123], "nice": false, "zero": false}},
               "y": {"field": "headCL", "type": "quantitative", "scale": {"domain": [0, 20000], "nice": false}}
             }},
            {"mark": {"type": "rect", "color": "#0000FF", "opacity": 1},
             "encoding": {
               "x": {"field": "start", "type": "quantitative", "scale": {"domain": [0, 123], "nice": false, "zero": false}},
               "x2": {"field": "end"},
               "y": {"field": "boxTop", "type": "quantitative", "scale": {"domain": [0, 20000], "nice": false}},
               "y2": {"field": "boxBottom"}
             }},
            {"mark": {"type": "text", "color": "white", "font": "Noto Sans CJK JP", "fontSize": 37, "align": "center", "baseline": "middle"},
             "encoding": {
               "x": {"field": "mid", "type": "quantitative", "scale": {"domain": [0, 123], "nice": false, "zero": false}},
               "y": {"field": "labelCL", "type": "quantitative", "scale": {"domain": [0, 20000], "nice": false}},
               "text": {"field": "event"}
             }}
          ]
        }
      ]
    },
    {
      "width": 850,
      "height": 350,
      "layer": [
        {
          "data": {"name": "do"},
          "encoding": {
            "x": {"field": "sample", "type": "quantitative", "scale": {"domain": [0, 123], "nice": false, "zero": false},
                  "axis": {"title": null, "labels": false, "grid": false, "tickCount": 25, "ticks": true, "tickSize": -6, "tickColor": "black", "tickWidth": 1.5}},
            "y": {"field": "DO", "type": "quantitative", "scale": {"domain": [0, 10], "nice": false},
                  "axis": {"title": "DO(mg/L)", "values": [0, 2, 4, 6, 8, 10], "format": "d", "ticks": false, "labelPadding": 31, "labelOffset": 4,
                           "gridColor": {"condition": {"test": "datum.value === 10", "value": "#808080"}, "value": "black"},
                           "titleX": -111, "titleY": 173, "titleAngle": 270, "titleBaseline": "middle", "titleAlign": "center"}}
          },
          "layer": [
            {"transform": [{"filter": "datum.layer === '表層'"}],
             "layer": [
               {"mark": {"type": "line", "color": "#FF0000", "strokeWidth": 2}},
               {"mark": {"type": "point", "shape": "circle", "color": "#FF0000", "filled": true, "opacity": 1, "size": 81, "strokeWidth": 0}}
             ]},
            {"transform": [{"filter": "datum.layer === '低層'"}],
             "layer": [
               {"mark": {"type": "line", "color": "#FF6F00", "strokeWidth": 2}},
               {"mark": {"type": "point", "shape": "diamond", "color": "#FF6F00", "filled": true, "opacity": 1, "size": 100, "strokeWidth": 0}}
             ]},
            {"transform": [{"filter": "datum.layer === '底層'"}],
             "layer": [
               {"mark": {"type": "line", "color": "#008000", "strokeWidth": 2}},
               {"mark": {"type": "point", "shape": "triangle-up", "color": "#008000", "filled": true, "opacity": 1, "size": 110, "strokeWidth": 0}}
             ]},
            {"transform": [{"filter": "datum.sample < 0"}],
             "mark": {"type": "point", "filled": true, "opacity": 1, "strokeWidth": 0},
             "encoding": {
               "color": {"field": "layer", "type": "nominal",
                         "scale": {"domain": ["表層", "低層", "底層"], "range": ["#FF0000", "#FF6F00", "#008000"]},
                         "legend": {"legendX": 444, "legendY": -12, "labelOffset": 60, "labelExpr": "'DO（' + datum.label + '）'"}},
               "shape": {"field": "layer", "type": "nominal",
                         "scale": {"domain": ["表層", "低層", "底層"],
                                   "range": ["M1.2,-0.2L12.8,-0.2L12.8,0.2L1.2,0.2ZM7.65,0C7.65,0.469,7.269,0.85,6.8,0.85C6.331,0.85,5.95,0.469,5.95,0C5.95,-0.469,6.331,-0.85,6.8,-0.85C7.269,-0.85,7.65,-0.469,7.65,0Z",
                                             "M1.2,-0.2L12.8,-0.2L12.8,0.2L1.2,0.2ZM5.75,0L6.8,-1.05L7.85,0L6.8,1.05Z",
                                             "M1.2,-0.2L12.8,-0.2L12.8,0.2L1.2,0.2ZM6.8,-1.05L7.85,0.95L5.75,0.95Z"]},
                         "legend": {"legendX": 444, "legendY": -12, "labelOffset": 60, "labelExpr": "'DO（' + datum.label + '）'"}}
             }}
          ]
        },
        {
          "data": {"name": "do_flood"},
          "layer": [
            {"transform": [{"filter": "datum.id === 1"}],
             "mark": {"type": "point", "filled": false, "color": "#0000FF", "strokeWidth": 2, "opacity": 1, "size": 3025,
                      "shape": "M1,0C1,0.462,0.552,0.836,0,0.836C-0.552,0.836,-1,0.462,-1,0C-1,-0.462,-0.552,-0.836,0,-0.836C0.552,-0.836,1,-0.462,1,0Z"},
             "encoding": {
               "x": {"field": "ringSample", "type": "quantitative", "scale": {"domain": [0, 123], "nice": false, "zero": false}},
               "y": {"field": "ringDO", "type": "quantitative", "scale": {"domain": [0, 10], "nice": false}}
             }},
            {"transform": [{"filter": "datum.id === 2"}],
             "mark": {"type": "point", "filled": false, "color": "#0000FF", "strokeWidth": 2, "opacity": 1, "size": 3025,
                      "shape": "M1,0C1,0.542,0.552,0.982,0,0.982C-0.552,0.982,-1,0.542,-1,0C-1,-0.542,-0.552,-0.982,0,-0.982C0.552,-0.982,1,-0.542,1,0Z"},
             "encoding": {
               "x": {"field": "ringSample", "type": "quantitative", "scale": {"domain": [0, 123], "nice": false, "zero": false}},
               "y": {"field": "ringDO", "type": "quantitative", "scale": {"domain": [0, 10], "nice": false}}
             }}
          ]
        }
      ]
    }
  ]
}
